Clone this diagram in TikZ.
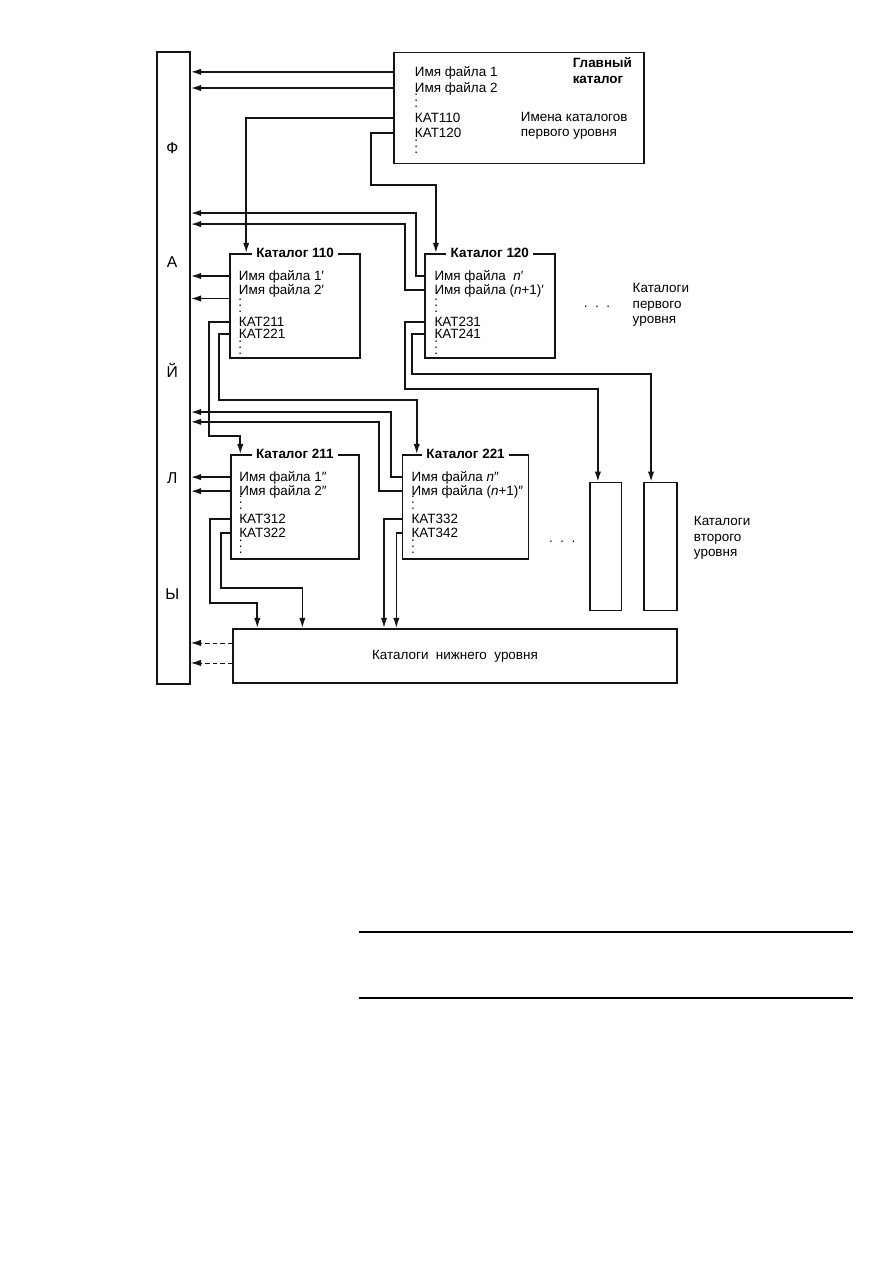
\documentclass[tikz,border=0pt]{standalone}
\usepackage{fontspec}
\setmainfont{Liberation Sans}
\usetikzlibrary{arrows.meta,calc}
\usepackage{tkz-euclide}
\definecolor{LineClr}{rgb}{0.08,0.08,0.08}
\newcommand{\vdotz}{\vbox{\baselineskip=4pt\lineskiplimit=0pt\hbox{.}\hbox{.}\hbox{.}}}

\begin{document}
\begin{tikzpicture}[line width=1.05pt,
  font=\fontsize{9pt}{10.4pt}\selectfont,
  box/.style={draw=LineClr,anchor=north west,inner sep=0pt},
  ent/.style={anchor=west,inner sep=0pt,text height=6.4pt,text depth=0pt},
  dts/.style={inner sep=0pt},
  ttl/.style={fill=white,inner xsep=3pt,inner ysep=1pt,font=\fontsize{9pt}{10.4pt}\selectfont\bfseries},
  lab/.style={anchor=west,align=left,inner sep=0pt},
  bk/.style={font=\fontsize{10.5pt}{12pt}\selectfont},
  arr/.style={draw=LineClr,-{Latex[length=2.4mm,width=1.5mm]}}]
\useasboundingbox (0,0) rectangle (21,29.7);

\tkzDefPoints{3.67/28.50/F,9.24/28.48/G,5.39/23.75/K1,9.97/23.75/K2,
  5.41/19.02/K3,9.45/19.02/K4,13.85/18.37/V1,15.12/18.37/V2,5.46/14.93/N}
% bends
\tkzDefPoints{8.72/25.35/B1,4.92/19.45/B2,5.15/20.29/B3,9.78/24.69/B4,
  9.52/24.43/B5,9.52/20.55/B6,9.69/20.90/B7,4.94/15.52/B8,5.20/15.87/B9,
  9.20/20.01/B10,8.91/19.78/B11,5.46/14.58/L1,5.46/14.11/L2}
\tkzDefPoints{8.44/7.78/R1,20.06/7.78/R2,8.44/6.23/R3,20.06/6.23/R4}

\node[box,minimum width=.78cm,minimum height=14.86cm] (fl) at (F) {};
\node[box,minimum width=5.88cm,minimum height=2.61cm] (glav) at (G) {};
\node[box,minimum width=3.06cm,minimum height=2.45cm] (k110) at (K1) {};
\node[box,minimum width=3.06cm,minimum height=2.45cm] (k120) at (K2) {};
\node[box,minimum width=3.01cm,minimum height=2.45cm] (k211) at (K3) {};
\node[box,minimum width=2.96cm,minimum height=2.45cm] (k221) at (K4) {};
\node[box,minimum width=.75cm,minimum height=3.01cm] (v1) at (V1) {};
\node[box,minimum width=.78cm,minimum height=3.01cm] (v2) at (V2) {};
\node[box,minimum width=10.44cm,minimum height=1.27cm] (niz) at (N) {Каталоги~~нижнего~~уровня};

\node[bk] (l1) at (4.05,26.22) {Ф};
\node[bk] (l2) at (4.05,23.54) {А};
\node[bk] (l3) at (4.05,21.00) {Й};
\node[bk] (l4) at (4.05,18.46) {Л};
\node[bk] (l5) at (4.05,15.73) {Ы};

\node[ttl] (t110) at (k110.north) {Каталог 110};
\node[ttl] (t120) at (k120.north) {Каталог 120};
\node[ttl] (t211) at (k211.north) {Каталог 211};
\node[ttl] (t221) at (k221.north) {Каталог 221};

% main catalog
\node[ent] (g1) at (9.74,28.01) {Имя файла 1};
\node[ent] (g2) at (9.74,27.63) {Имя файла 2};
\node[dts] (g0) at (9.79,27.34) {\vdotz};
\node[ent] (g3) at (9.74,26.92) {КАТ110};
\node[ent] (g4) at (9.74,26.57) {КАТ120};
\node[dts] (g5) at (9.79,26.25) {\vdotz};
\node[lab,font=\fontsize{9pt}{10.7pt}\selectfont\bfseries] (gk) at (13.45,28.03) {Главный\\каталог};
\node[lab] (gi) at (12.23,26.745) {Имена каталогов\\первого уровня};

\draw[arr] (glav.west |- g1) -- (fl.east |- g1);
\draw[arr] (glav.west |- g2) -- (fl.east |- g2);
\draw[arr] (glav.west |- g3) -| ([xshift=.4cm]k110.north west);
\draw[arr] (glav.west |- g4) -| (B1) -| ([xshift=.28cm]k120.north west);

% catalog 110
\node[ent] (a1) at (5.60,23.21) {Имя файла 1′};
\node[ent] (a2) at (5.60,22.88) {Имя файла 2′};
\node[dts] (a0) at (5.65,22.50) {\vdotz};
\node[ent] (a3) at (5.60,22.13) {КАТ211};
\node[ent] (a4) at (5.60,21.85) {КАТ221};
\node[dts] (a5) at (5.65,21.53) {\vdotz};
\coordinate (a2s) at ([yshift=-.2cm]a2.west);

\draw[arr] (k110.west |- a1) -- (fl.east |- a1);
\draw[arr] (k110.west |- a2s) -- (fl.east |- a2s);
\draw[arr] (k110.west |- a3) -| (B2) -| ([xshift=.24cm]k211.north west);
\draw[arr] (k110.west |- a4) -| (B3) -| ([xshift=.35cm]k221.north west);

% catalog 120
\node[ent] (b1) at (10.20,23.21) {Имя файла~~\textit{n}′};
\node[ent] (b2) at (10.20,22.88) {Имя файла (\textit{n}+1)′};
\node[dts] (b0) at (10.26,22.50) {\vdotz};
\node[ent] (b3) at (10.20,22.13) {КАТ231};
\node[ent] (b4) at (10.20,21.85) {КАТ241};
\node[dts] (b5) at (10.26,21.53) {\vdotz};

\draw[arr] (k120.west |- b1) -| (B4) -- (fl.east |- B4);
\draw[arr] (k120.west |- b2) -| (B5) -- (fl.east |- B5);
\draw[arr] (k120.west |- b3) -| (B6) -| ([xshift=.21cm]v1.north west);
\draw[arr] (k120.west |- b4) -| (B7) -| ([xshift=.19cm]v2.north west);

\node (dt1) at (14.04,22.48) {.\ \ .\ \ .};
\node[lab] (kp) at (14.86,22.53) {Каталоги\\первого\\уровня};

% catalog 211
\node[ent] (c1) at (5.61,18.48) {Имя файла 1″};
\node[ent] (c2) at (5.61,18.15) {Имя файла 2″};
\node[dts] (c0) at (5.66,17.87) {\vdotz};
\node[ent] (c3) at (5.61,17.50) {КАТ312};
\node[ent] (c4) at (5.61,17.17) {КАТ322};
\node[dts] (c5) at (5.66,16.84) {\vdotz};

\draw[arr] (k211.west |- c1) -- (fl.east |- c1);
\draw[arr] (k211.west |- c2) -- (fl.east |- c2);
\draw[arr] (k211.west |- c3) -| (B8) -| ([xshift=.59cm]niz.north west);
\draw[arr] (k211.west |- c4) -| (B9) -| ([xshift=1.65cm]niz.north west);

% catalog 221
\node[ent] (d1) at (9.66,18.48) {Имя файла \textit{n}″};
\node[ent] (d2) at (9.66,18.15) {Имя файла (\textit{n}+1)″};
\node[dts] (d0) at (9.71,17.87) {\vdotz};
\node[ent] (d3) at (9.66,17.50) {КАТ332};
\node[ent] (d4) at (9.66,17.17) {КАТ342};
\node[dts] (d5) at (9.71,16.84) {\vdotz};

\draw[arr] (k221.west |- d1) -| (B10) -- (fl.east |- B10);
\draw[arr] (k221.west |- d2) -| (B11) -- (fl.east |- B11);
\draw[arr] (k221.west |- d3) -| ([xshift=3.57cm]niz.north west);
\draw[arr] (k221.west |- d4) -| ([xshift=3.86cm]niz.north west);

\node (dt2) at (13.22,16.95) {.\ \ .\ \ .};
\node[lab] (kv) at (16.30,17.05) {Каталоги\\второго\\уровня};

\draw[arr,densely dashed,line width=.6pt] (L1) -- (fl.east |- L1);
\draw[arr,densely dashed,line width=.6pt] (L2) -- (fl.east |- L2);

\draw[line width=1pt] (R1) -- (R2);
\draw[line width=1pt] (R3) -- (R4);

\end{tikzpicture}
\end{document}
